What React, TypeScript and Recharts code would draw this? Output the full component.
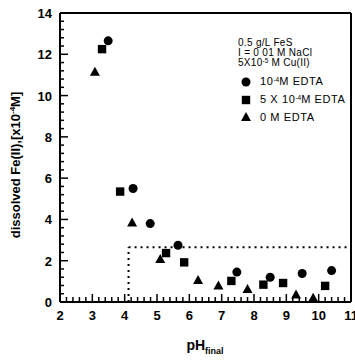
import React from "react";
import {
  ScatterChart,
  Scatter,
  XAxis,
  YAxis,
  ReferenceLine,
} from "recharts";

// pH_final vs dissolved Fe(II) [x10^-4 M]
const edta1e4 = [
  { ph: 3.49, fe: 12.65 },
  { ph: 4.26, fe: 5.5 },
  { ph: 4.79, fe: 3.8 },
  { ph: 5.65, fe: 2.75 },
  { ph: 7.47, fe: 1.45 },
  { ph: 8.5, fe: 1.2 },
  { ph: 9.49, fe: 1.38 },
  { ph: 10.4, fe: 1.52 },
];

const edta5e4 = [
  { ph: 3.3, fe: 12.25 },
  { ph: 3.86, fe: 5.35 },
  { ph: 5.28, fe: 2.37 },
  { ph: 5.84, fe: 1.92 },
  { ph: 7.3, fe: 1.02 },
  { ph: 8.29, fe: 0.84 },
  { ph: 8.9, fe: 0.92 },
  { ph: 10.2, fe: 0.78 },
];

const edta0 = [
  { ph: 3.08, fe: 11.15 },
  { ph: 4.23, fe: 3.85 },
  { ph: 5.1, fe: 2.08 },
  { ph: 6.27, fe: 1.07 },
  { ph: 6.9, fe: 0.8 },
  { ph: 7.8, fe: 0.63 },
  { ph: 9.3, fe: 0.36 },
  { ph: 9.83, fe: 0.2 },
];

// dotted guide
const guidePH = 4.12;
const guideFe = 2.65;

const xMin = 2;
const xMax = 11;
const yMin = 0;
const yMax = 14;

const xTicks: number[] = [];
for (let i = 0; i <= 45; i++) xTicks.push(+(xMin + i * 0.2).toFixed(1));
const yTicks: number[] = [];
for (let i = 0; i <= 35; i++) yTicks.push(+(yMin + i * 0.4).toFixed(1));

const FONT = "'Liberation Sans', Arial, sans-serif";

const isInt = (v: number) => Math.abs(v - Math.round(v)) < 1e-6;

const XTick = (props: any) => {
  const { x, y, payload } = props;
  const v = payload.value;
  const major = isInt(v);
  return (
    <g>
      <line x1={x} x2={x} y1={y} y2={y - (major ? 8 : 5)} stroke="#000" strokeWidth={1.5} />
      {major && (
        <text x={x} y={y + 18} textAnchor="middle" fontFamily={FONT} fontWeight="bold" fontSize={13} fill="#000">
          {Math.round(v)}
        </text>
      )}
    </g>
  );
};

const YTick = (props: any) => {
  const { x, y, payload } = props;
  const v = payload.value;
  const major = isInt(v / 2);
  return (
    <g>
      <line x1={x} x2={x + (major ? 8 : 4)} y1={y} y2={y} stroke="#000" strokeWidth={1.5} />
      {major && (
        <text x={x - 8} y={y + 5} textAnchor="end" fontFamily={FONT} fontWeight="bold" fontSize={13} fill="#000">
          {Math.round(v)}
        </text>
      )}
    </g>
  );
};

const Circle = (props: any) => <circle cx={props.cx} cy={props.cy} r={4.5} fill="#000" />;
const Square = (props: any) => (
  <rect x={props.cx - 4.2} y={props.cy - 4.2} width={8.4} height={8.4} fill="#000" />
);
const Triangle = (props: any) => (
  <path
    d={`M${props.cx},${props.cy - 5} L${props.cx + 5},${props.cy + 4} L${props.cx - 5},${props.cy + 4} Z`}
    fill="#000"
  />
);

const Sup = ({ children }: { children: React.ReactNode }) => (
  <span style={{ fontSize: 6.5, position: "relative", top: -3, letterSpacing: 0 }}>{children}</span>
);

const legendItems = [
  { label: <>10<Sup>-4</Sup>M EDTA</>, shape: "circle" },
  { label: <>5 X 10<Sup>-4</Sup>M EDTA</>, shape: "square" },
  { label: <>0 M EDTA</>, shape: "triangle" },
];

function Symbol({ shape }: { shape: string }) {
  return (
    <svg width={12} height={12} style={{ display: "block", flex: "none" }}>
      {shape === "circle" && <circle cx={6} cy={6} r={4.5} fill="#000" />}
      {shape === "square" && <rect x={1.8} y={1.8} width={8.4} height={8.4} fill="#000" />}
      {shape === "triangle" && <path d="M6,1 L11,10 L1,10 Z" fill="#000" />}
    </svg>
  );
}

export default function App() {
  return (
    <div style={{ position: "absolute", left: 0, top: 0, width: 355, height: 360, background: "#fff" }}>
      <ScatterChart width={355} height={360} margin={{ top: 13, right: 4, left: 0, bottom: 0 }}>
        <XAxis
          type="number"
          dataKey="ph"
          domain={[xMin, xMax]}
          ticks={xTicks}
          interval={0}
          tickSize={0}
          tickMargin={0}
          tickLine={false}
          tick={<XTick />}
          axisLine={{ stroke: "#000", strokeWidth: 2 }}
          height={58}
          allowDataOverflow
          label={{
            content: () => (
              <text x={205} y={350} textAnchor="middle" fontFamily={FONT} fontWeight="bold" fontSize={14} fill="#000">
                pH
                <tspan fontSize={9} dy={4}>final</tspan>
              </text>
            ),
          }}
        />
        <YAxis
          type="number"
          dataKey="fe"
          domain={[yMin, yMax]}
          ticks={yTicks}
          interval={0}
          tickSize={0}
          tickMargin={0}
          tickLine={false}
          tick={<YTick />}
          axisLine={{ stroke: "#000", strokeWidth: 2 }}
          width={60}
          allowDataOverflow
          label={{
            content: () => (
              <text
                x={20}
                y={165}
                transform="rotate(-90 20 165)"
                textAnchor="middle"
                fontFamily={FONT}
                fontWeight="bold"
                fontSize={13}
                fill="#000"
              >
                dissolved Fe(II),[x10
                <tspan fontSize={8} dy={-5}>-4</tspan>
                <tspan dy={5}>M]</tspan>
              </text>
            ),
          }}
        />
        {/* frame: top and right borders */}
        <ReferenceLine y={yMax} stroke="#000" strokeWidth={2} />
        <ReferenceLine x={xMax} stroke="#000" strokeWidth={2} />
        <ReferenceLine
          segment={[{ x: guidePH, y: yMin }, { x: guidePH, y: guideFe }]}
          stroke="#000"
          strokeWidth={2}
          strokeDasharray="2 4"
        />
        <ReferenceLine
          segment={[{ x: guidePH, y: guideFe }, { x: xMax, y: guideFe }]}
          stroke="#000"
          strokeWidth={2}
          strokeDasharray="2 4"
        />
        <Scatter data={edta1e4} shape={<Circle />} isAnimationActive={false} />
        <Scatter data={edta5e4} shape={<Square />} isAnimationActive={false} />
        <Scatter data={edta0} shape={<Triangle />} isAnimationActive={false} />
      </ScatterChart>
      <div
        style={{
          position: "absolute",
          left: 238,
          top: 38,
          fontFamily: FONT,
          fontSize: 10,
          letterSpacing: 0.3,
          lineHeight: "10px",
          color: "#000",
          width: 113,
          overflow: "hidden",
          whiteSpace: "nowrap",
        }}
      >
        <div>0.5 g/L FeS</div>
        <div>I = 0 01 M NaCl</div>
        <div>
          5X10<Sup>-5</Sup> M Cu(II)
        </div>
        {legendItems.map((it, i) => (
          <div key={i} style={{ display: "flex", alignItems: "center", marginTop: i === 0 ? 7 : 5.5, height: 12 }}>
            <div style={{ marginLeft: 2 }}>
              <Symbol shape={it.shape} />
            </div>
            <span style={{ marginLeft: 8, fontSize: 11, letterSpacing: 0.6 }}>{it.label}</span>
          </div>
        ))}
      </div>
    </div>
  );
}
